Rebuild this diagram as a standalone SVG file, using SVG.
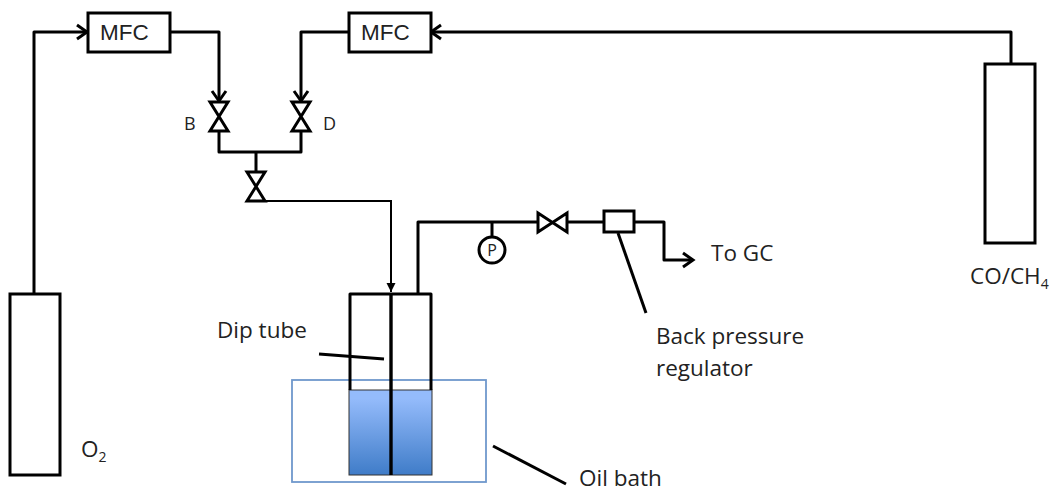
<svg xmlns="http://www.w3.org/2000/svg" width="1053" height="493" viewBox="0 0 1053 493">
<defs>
<linearGradient id="liq" x1="0" y1="0" x2="0" y2="1"><stop offset="0.1" stop-color="#94bbfb"/><stop offset="1" stop-color="#3f7cc8"/></linearGradient>
<marker id="open" markerUnits="userSpaceOnUse" markerWidth="16" markerHeight="16" refX="12" refY="8" orient="auto" overflow="visible"><path d="M2 1L12 8L2 15" fill="none" stroke="#000" stroke-width="3"/></marker>
<marker id="solid" markerUnits="userSpaceOnUse" markerWidth="12" markerHeight="10" refX="9" refY="5" orient="auto"><path d="M0 0.5L9 5L0 9.5Z" fill="#000"/></marker>
</defs>
<style>
.l{fill:none;stroke:#000;stroke-width:3;stroke-linejoin:round}
.t{font-family:"Open Sans","Noto Sans",sans-serif;font-size:22.5px;fill:#222}
.m{font-family:"Liberation Sans",Arial,sans-serif;font-size:22.5px;fill:#222}
.v{fill:#fff;stroke:#000;stroke-width:3;stroke-linejoin:miter}
.b{fill:#fff;stroke:#000;stroke-width:3}
.s{font-size:14px}
.k{font-size:18px}
</style>
<rect width="1053" height="493" fill="#fff"/>
<g id="connectors">
<path class="l" marker-end="url(#open)" d="M34 293V32H87"/>
<path class="l" marker-end="url(#open)" d="M170 32H219V101"/>
<path class="l" marker-end="url(#open)" d="M349 32H301V101"/>
<path class="l" marker-end="url(#open)" d="M1011 63V32H431"/>
<path class="l" d="M219 131V152H301V131M256 152V172"/>
<path d="M266 201H391V292" fill="none" stroke="#000" stroke-width="2" marker-end="url(#solid)"/>
<path class="l" d="M418 293V222H537M567 222H603M492 222V236"/>
<path class="l" marker-end="url(#open)" d="M634 222H664V260H693"/>
<path class="l" d="M618 233L646 313"/>
<path class="l" d="M493 446L566 484"/>
</g>
<g id="oil-bath"><rect x="292" y="380" width="194" height="102" fill="#fff" stroke="#6f98cc" stroke-width="1.8"/></g>
<g id="vessel">
<rect x="349" y="390" width="83" height="85" fill="url(#liq)" stroke="#333" stroke-width="1"/>
<path class="l" d="M350 390V294H431V390"/>
<path d="M391 294V475" fill="none" stroke="#000" stroke-width="3.4"/>
</g>
<path class="l" d="M319 354L384 359"/>
<g id="mfc-1"><rect class="b" x="88" y="13" width="82" height="39"/><text class="m" x="100" y="40">MFC</text></g>
<g id="mfc-2"><rect class="b" x="349" y="13" width="82" height="39"/><text class="m" x="361" y="40">MFC</text></g>
<g id="valve-b"><path class="v" d="M210 102H228L210 131H228Z"/><text class="t k" x="184" y="130">B</text></g>
<g id="valve-d"><path class="v" d="M292 102H310L292 131H310Z"/><text class="t k" x="323" y="130">D</text></g>
<g id="valve-c"><path class="v" d="M247 172H265L247 201H265Z"/></g>
<g id="valve-e"><path class="v" d="M538 213V232L567 213V232Z"/></g>
<g id="gauge"><circle cx="492" cy="250" r="13" fill="#fff" stroke="#000" stroke-width="3"/><text x="492" y="256" text-anchor="middle" class="t" style="font-size:16px">P</text></g>
<g id="regulator"><rect class="b" x="604" y="211" width="30" height="21"/></g>
<g id="cylinder-o2"><rect class="b" x="10" y="294" width="50" height="181"/><text class="t" x="81" y="457">O<tspan class="s" dy="5">2</tspan></text></g>
<g id="cylinder-co"><rect class="b" x="985" y="64" width="50" height="179"/><text class="t" x="970" y="284">CO/CH<tspan class="s" dy="5">4</tspan></text></g>
<text class="t" x="217" y="338">Dip tube</text>
<text class="t" x="711" y="261">To GC</text>
<text class="t" x="656" y="344">Back pressure</text>
<text class="t" x="656" y="376">regulator</text>
<text class="t" x="579" y="486">Oil bath</text>
</svg>
